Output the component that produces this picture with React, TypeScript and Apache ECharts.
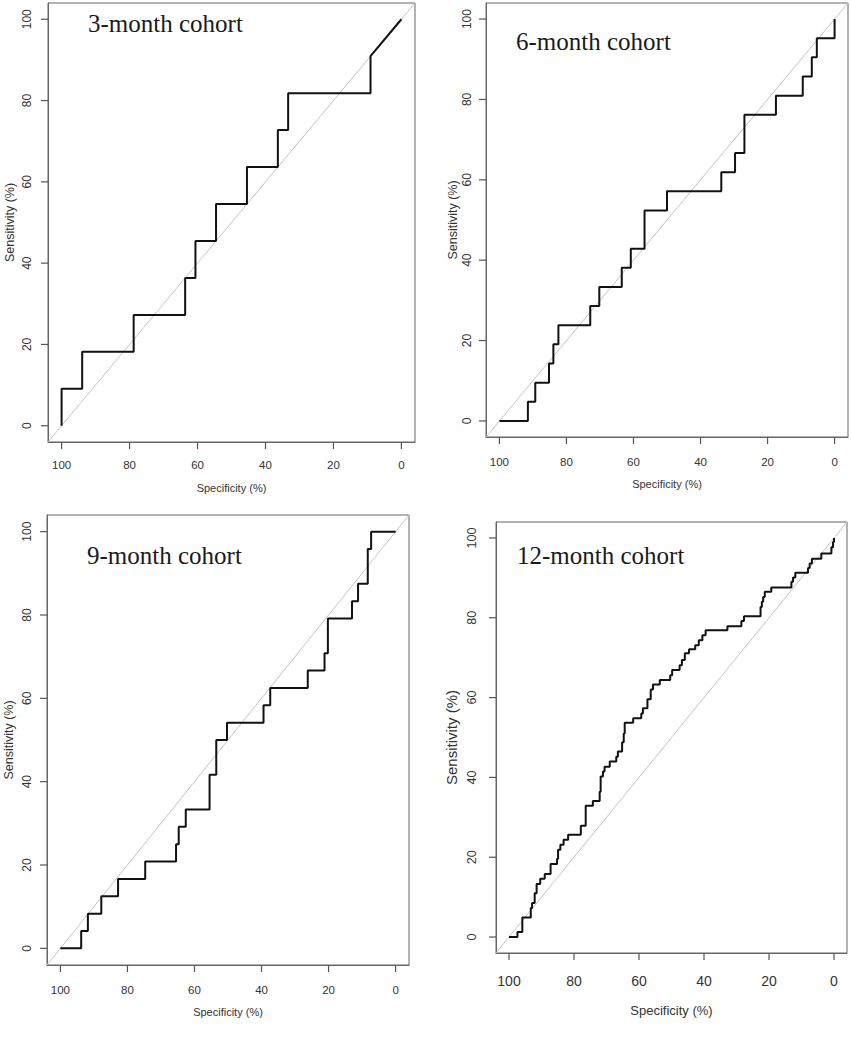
import React, { useEffect, useRef } from "react";
import * as echarts from "echarts";

// ROC coordinates: [specificity (%), sensitivity (%)]
const roc3: [number, number][] = [
  [100, 0], [100, 9.09], [93.94, 9.09], [93.94, 18.18], [78.79, 18.18], [78.79, 27.27],
  [63.64, 27.27], [63.64, 36.36], [60.61, 36.36], [60.61, 45.45], [54.55, 45.45], [54.55, 54.55],
  [45.45, 54.55], [45.45, 63.64], [36.36, 63.64], [36.36, 72.73], [33.33, 72.73], [33.33, 81.82],
  [9.09, 81.82], [9.09, 90.91], [0, 100],
];

const roc6: [number, number][] = [
  [100, 0], [91.5, 0], [91.5, 4.76], [89.3, 4.76], [89.3, 9.52], [85.2, 9.52], [85.2, 14.29],
  [83.9, 14.29], [83.9, 19.05], [82.4, 19.05], [82.4, 23.81], [72.9, 23.81], [72.9, 28.57],
  [70.2, 28.57], [70.2, 33.33], [63.5, 33.33], [63.5, 38.1], [60.8, 38.1], [60.8, 42.86],
  [56.7, 42.86], [56.7, 52.38], [50, 52.38], [50, 57.14], [33.8, 57.14], [33.8, 61.9],
  [29.7, 61.9], [29.7, 66.67], [26.9, 66.67], [26.9, 76.19], [17.5, 76.19], [17.5, 80.95],
  [9.5, 80.95], [9.5, 85.71], [6.8, 85.71], [6.8, 90.48], [5.3, 90.48], [5.3, 95.24],
  [0, 95.24], [0, 100],
];

const roc9: [number, number][] = [
  [100, 0], [93.8, 0], [93.8, 4.17], [91.8, 4.17], [91.8, 8.33], [87.8, 8.33], [87.8, 12.5],
  [82.8, 12.5], [82.8, 16.67], [74.7, 16.67], [74.7, 20.83], [65.5, 20.83], [65.5, 25],
  [64.7, 25], [64.7, 29.17], [62.6, 29.17], [62.6, 33.33], [55.5, 33.33], [55.5, 41.67],
  [53.5, 41.67], [53.5, 50], [50.3, 50], [50.3, 54.17], [39.4, 54.17], [39.4, 58.33],
  [37.4, 58.33], [37.4, 62.5], [26.2, 62.5], [26.2, 66.67], [21.2, 66.67], [21.2, 70.83],
  [20.2, 70.83], [20.2, 79.17], [13, 79.17], [13, 83.33], [11.2, 83.33], [11.2, 87.5],
  [8.3, 87.5], [8.3, 95.83], [7.3, 95.83], [7.3, 100], [0, 100],
];

const roc12: [number, number][] = [
  [100, 0], [97.4, 0], [97.4, 1.25], [95.9, 1.25], [95.9, 4.9], [93.3, 4.9], [93.3, 7.3],
  [92.9, 7.3], [92.9, 8.5], [92.1, 8.5], [92.1, 11], [91.5, 11], [91.5, 13.3], [90.4, 13.3],
  [90.4, 14.6], [89, 14.6], [89, 15.8], [87.2, 15.8], [87.2, 18.3], [85.2, 18.3], [85.2, 19.6],
  [84.9, 19.6], [84.9, 21.9], [84.2, 21.9], [84.2, 23.1], [83.2, 23.1], [83.2, 24.4],
  [81.8, 24.4], [81.8, 25.6], [77.9, 25.6], [77.9, 27.9], [76.4, 27.9], [76.4, 32.9],
  [74.2, 32.9], [74.2, 34.1], [72.1, 34.1], [72.1, 36.4], [71.8, 36.4], [71.8, 40.2],
  [71.1, 40.2], [71.1, 41.5], [70.6, 41.5], [70.6, 42.7], [69, 42.7], [69, 44], [67, 44],
  [67, 45.2], [66.5, 45.2], [66.5, 46.5], [65.2, 46.5], [65.2, 48.8], [64.7, 48.8], [64.7, 51],
  [64.4, 51], [64.4, 53.7], [61.8, 53.7], [61.8, 54.8], [59.3, 54.8], [59.3, 56], [58.8, 56],
  [58.8, 57.3], [57.4, 57.3], [57.4, 59.6], [56.4, 59.6], [56.4, 62], [55.7, 62], [55.7, 63.3],
  [53.6, 63.3], [53.6, 64.4], [50.4, 64.4], [50.4, 65.6], [49.8, 65.6], [49.8, 66.9],
  [47.5, 66.9], [47.5, 68.1], [46.8, 68.1], [46.8, 69.4], [45.9, 69.4], [45.9, 71.1],
  [44.6, 71.1], [44.6, 72.1], [42.7, 72.1], [42.7, 73.1], [41.6, 73.1], [41.6, 74.4],
  [40.5, 74.4], [40.5, 75.6], [39.5, 75.6], [39.5, 76.9], [32.8, 76.9], [32.8, 77.9],
  [28.5, 77.9], [28.5, 79.2], [27.7, 79.2], [27.7, 80.4], [22.6, 80.4], [22.6, 82.7],
  [22.2, 82.7], [22.2, 84], [21.8, 84], [21.8, 85.2], [21.3, 85.2], [21.3, 86.5], [19.3, 86.5],
  [19.3, 87.6], [13.1, 87.6], [13.1, 89], [12.6, 89], [12.6, 90.1], [11.9, 90.1], [11.9, 91.3],
  [8, 91.3], [8, 92.5], [7.5, 92.5], [7.5, 93.6], [6.8, 93.6], [6.8, 94.8], [3.9, 94.8],
  [3.9, 96.1], [0.8, 96.1], [0.8, 97.7], [0.3, 97.7], [0.3, 99], [0, 99], [0, 100],
];

const diagonal: [number, number][] = [[104, -4], [-4, 104]];
const tickValues = [0, 20, 40, 60, 80, 100];
const cohortTitles = ["3-month cohort", "6-month cohort", "9-month cohort", "12-month cohort"];
const xTitle = "Specificity (%)";
const yTitle = "Sensitivity (%)";
const AXIS_MIN = -4;
const AXIS_MAX = 104;

const SANS = "'Liberation Sans', Arial, sans-serif";
const SERIF = "'Liberation Serif', 'Times New Roman', serif";

type Layout = {
  left: number; top: number; width: number; height: number;
  xFont: number; yFont: number; xMargin: number; yMargin: number;
  xNameGap: number; yNameGap: number; xNameFont: number; yNameFont: number;
  titleX: number; titleY: number;
};

const layouts: Layout[] = [
  { left: 48, top: 3, width: 367, height: 439, xFont: 11.5, yFont: 12, xMargin: 17, yMargin: 15,
    xNameGap: 40, yNameGap: 32, xNameFont: 11, yNameFont: 12.5, titleX: 88, titleY: 23.5 },
  { left: 486, top: 3, width: 362, height: 434, xFont: 11.5, yFont: 12, xMargin: 19, yMargin: 13,
    xNameGap: 41, yNameGap: 27, xNameFont: 11, yNameFont: 12.5, titleX: 516, titleY: 41 },
  { left: 47, top: 515, width: 362, height: 450, xFont: 11.5, yFont: 12, xMargin: 18.5, yMargin: 14,
    xNameGap: 41.5, yNameGap: 31.5, xNameFont: 11, yNameFont: 12.5, titleX: 87, titleY: 555 },
  { left: 496, top: 522, width: 351, height: 431, xFont: 14, yFont: 12.6, xMargin: 20.5, yMargin: 18,
    xNameGap: 51, yNameGap: 37.5, xNameFont: 13, yNameFont: 15, titleX: 517, titleY: 555 },
];

const rocs = [roc3, roc6, roc9, roc12];
const TICK_LEN = 7;

export default function App() {
  const ref = useRef<HTMLDivElement>(null);
  useEffect(() => {
    document.body.style.margin = "0";
    if (!ref.current) return;
    const chart = echarts.init(ref.current, null, { renderer: "svg" });
    const tickColor = "#555";
    const labelColor = "#333";
    const titles = layouts.map((l, i) => ({
      type: "text", x: l.titleX, y: l.titleY, z: 100,
      style: { text: cohortTitles[i], fontSize: 25, fontFamily: SERIF, fill: "#1a1a1a", align: "left", verticalAlign: "middle" },
    }));
    const option: any = {
      animation: false,
      grid: layouts.map((l) => ({
        left: l.left, top: l.top, width: l.width, height: l.height,
        show: true, borderColor: "#666", borderWidth: 1,
      })),
      xAxis: layouts.map((l, i) => ({
        gridIndex: i, type: "value", min: AXIS_MIN, max: AXIS_MAX, inverse: true,
        axisLine: { show: true, onZero: false, lineStyle: { color: "#666" } },
        splitLine: { show: false },
        axisTick: { show: false },
        axisLabel: { customValues: tickValues, margin: l.xMargin, fontSize: l.xFont, fontFamily: SANS, color: labelColor },
        name: xTitle, nameLocation: "middle", nameGap: l.xNameGap,
        nameTextStyle: { fontSize: l.xNameFont, fontFamily: SANS, color: labelColor },
      })),
      yAxis: layouts.map((l, i) => ({
        gridIndex: i, type: "value", min: AXIS_MIN, max: AXIS_MAX,
        axisLine: { show: true, onZero: false, lineStyle: { color: "#666" } },
        splitLine: { show: false },
        axisTick: { show: false },
        axisLabel: { customValues: tickValues, margin: l.yMargin, rotate: 90, fontSize: l.yFont, fontFamily: SANS, color: labelColor },
        name: yTitle, nameLocation: "middle", nameGap: l.yNameGap,
        nameTextStyle: { fontSize: l.yNameFont, fontFamily: SANS, color: labelColor },
      })),
      series: [
        ...layouts.map((_, i) => ({
          type: "line", xAxisIndex: i, yAxisIndex: i, data: diagonal,
          showSymbol: false, silent: true,
          lineStyle: { color: "#c4c4c4", width: 1 },
        })),
        ...rocs.map((d, i) => ({
          type: "line", xAxisIndex: i, yAxisIndex: i, data: d,
          showSymbol: false, silent: true,
          lineStyle: { color: "#111", width: 2 },
        })),
      ],
      graphic: titles,
    };
    chart.setOption(option);

    // Tick marks placed through the chart's own scales (convertToPixel)
    const ticks: any[] = [];
    layouts.forEach((_, i) => {
      tickValues.forEach((v) => {
        const b = chart.convertToPixel({ gridIndex: i } as any, [v, AXIS_MIN]) as number[];
        const lft = chart.convertToPixel({ gridIndex: i } as any, [AXIS_MAX, v]) as number[];
        if (b && lft) {
          ticks.push({
            type: "line", z: 100, silent: true,
            shape: { x1: b[0], y1: b[1], x2: b[0], y2: b[1] + TICK_LEN },
            style: { stroke: tickColor, lineWidth: 1.2 },
          });
          ticks.push({
            type: "line", z: 100, silent: true,
            shape: { x1: lft[0], y1: lft[1], x2: lft[0] - TICK_LEN, y2: lft[1] },
            style: { stroke: tickColor, lineWidth: 1.2 },
          });
        }
      });
    });
    chart.setOption({ graphic: [...titles, ...ticks] }, { replaceMerge: ["graphic"] } as any);
    return () => chart.dispose();
  }, []);
  return <div ref={ref} style={{ position: "absolute", left: 0, top: 0, width: 851, height: 1050 }} />;
}
